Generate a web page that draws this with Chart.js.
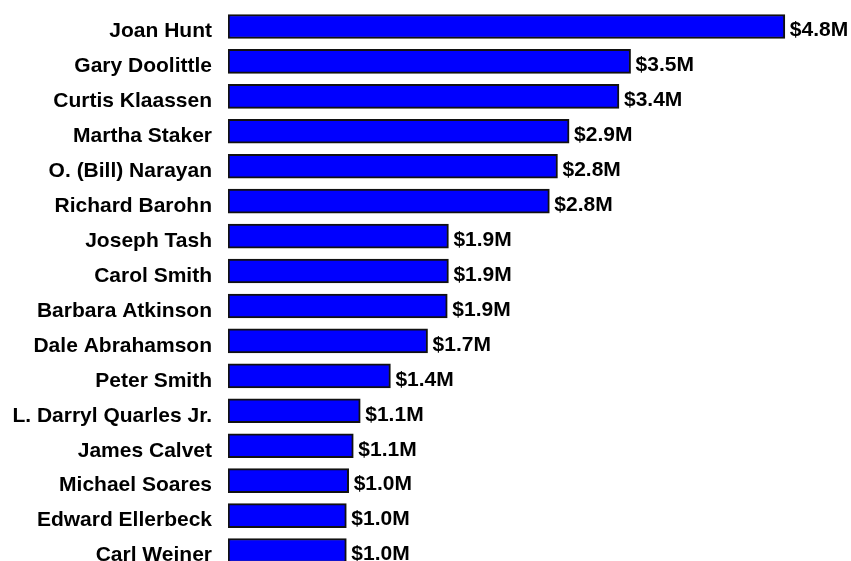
<!DOCTYPE html>
<html>
<head>
<meta charset="utf-8">
<script src="https://cdn.jsdelivr.net/npm/chart.js@4"></script>
<style>
  html, body { margin: 0; padding: 0; background: #fff; overflow: hidden; }
  #wrap { width: 851px; height: 568px; }
</style>
</head>
<body>
<div id="wrap"><canvas id="grantChart"></canvas></div>
<script>
// names, top to bottom
const names = [
    'Joan Hunt', 'Gary Doolittle', 'Curtis Klaassen', 'Martha Staker',
    'O. (Bill) Narayan', 'Richard Barohn', 'Joseph Tash', 'Carol Smith',
    'Barbara Atkinson', 'Dale Abrahamson', 'Peter Smith', 'L. Darryl Quarles Jr.',
    'James Calvet', 'Michael Soares', 'Edward Ellerbeck', 'Carl Weiner'
];

// funding, millions of dollars
const funding = [
    4.80, 3.47, 3.37, 2.94,
    2.84, 2.77, 1.90, 1.90,
    1.89, 1.72, 1.40, 1.14,
    1.08, 1.04, 1.02, 1.02
];

const fontBold = { family: '"Liberation Sans", Arial, sans-serif', size: 21, weight: 'bold' };

// draw "$x.xM" after each bar
const valueLabels = {
    id: 'valueLabels',
    afterDatasetsDraw(chart) {
        const ctx = chart.ctx;
        const meta = chart.getDatasetMeta(0);
        ctx.save();
        ctx.font = 'bold 21px "Liberation Sans", Arial, sans-serif';
        ctx.fillStyle = '#000';
        ctx.textAlign = 'left';
        ctx.textBaseline = 'middle';
        meta.data.forEach((bar, i) => {
            ctx.fillText('$' + funding[i].toFixed(1) + 'M', bar.x + 5, bar.y + 4);
        });
        ctx.restore();
    }
};

const ctx = document.getElementById('grantChart').getContext('2d');
const grantChart = new Chart(ctx, {
    type: 'bar',
    data: {
        labels: names,
        datasets: [{
            data: funding,
            backgroundColor: '#0000ff',
            borderColor: '#111',
            borderWidth: 2,
            borderSkipped: false,
            barThickness: 24
        }]
    },
    options: {
        indexAxis: 'y',
        responsive: true,
        maintainAspectRatio: false,
        animation: false,
        layout: { padding: { top: 9, left: 0, right: 0, bottom: 0 } },
        plugins: {
            legend: { display: false },
            tooltip: { enabled: false }
        },
        scales: {
            x: {
                display: false,
                min: 0,
                max: 5.37
            },
            y: {
                grid: { display: false, drawTicks: false },
                border: { display: false },
                ticks: {
                    color: '#000',
                    font: fontBold,
                    padding: 16,
                    labelOffset: 5,
                    autoSkip: false
                },
                afterFit: (scale) => {
                    scale.width = 228;
                    // labels may overhang, no extra space top/bottom
                    scale.paddingTop = 0;
                    scale.paddingBottom = 0;
                }
            }
        }
    },
    plugins: [valueLabels]
});
</script>
</body>
</html>
